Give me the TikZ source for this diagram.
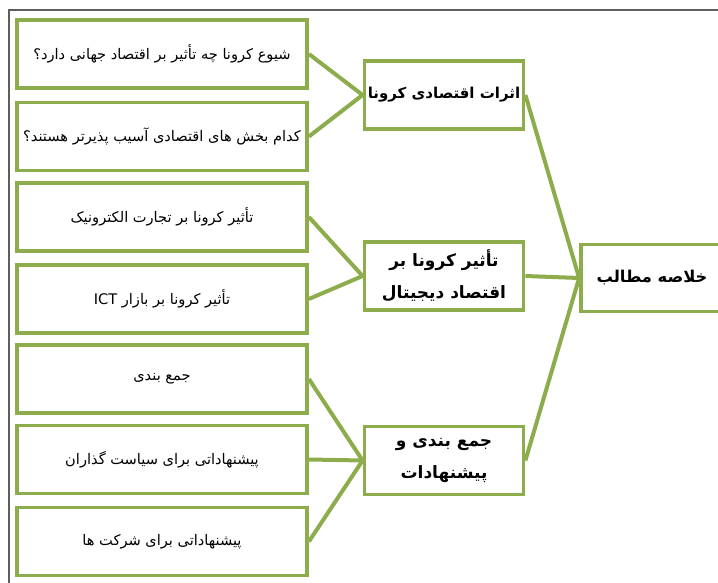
\documentclass[tikz,border=0pt]{standalone}
\usepackage{fontspec}
\TeXXeTstate=1
\newfontfamily\arabicfont[Script=Arabic]{DejaVu Sans}
\definecolor{leaf}{HTML}{8DAD4C}
\definecolor{framegray}{HTML}{5E5E5E}
\tikzset{
  leafbox/.style={draw=leaf, line width=3.8pt, fill=white, minimum width=290pt, minimum height=68pt, inner sep=1pt, font=\arabicfont\fontsize{14.6}{18}\selectfont, align=center},
  midbox/.style={draw=leaf, line width=3.8pt, fill=white, minimum width=159pt, minimum height=68pt, inner sep=1pt, font=\arabicfont\bfseries\fontsize{17}{32}\selectfont, align=center},
  link/.style={draw=leaf, line width=4pt},
  outerframe/.style={draw=framegray, line width=2pt}
}
\begin{document}
\begin{tikzpicture}[x=1pt,y=-1pt]
\useasboundingbox (0,0) rectangle (718,583);
\clip (0,0) rectangle (718,583);
\fill[white] (0,0) rectangle (718,583);
\coordinate (fb) at (8.5,590);
\coordinate (fc) at (8.5,10);
\coordinate (fr) at (725,10);
\draw[outerframe] (fb) -- (fc) -- (fr);
% left boxes
\node[leafbox] (q1) at (162,54) {\beginR شیوع کرونا چه تأثیر بر اقتصاد جهانی دارد؟\endR};
\node[leafbox] (q2) at (162,136.5) {\beginR کدام بخش های اقتصادی آسیب پذیرتر هستند؟\endR};
\node[leafbox] (q3) at (162,217) {\beginR تأثیر کرونا بر تجارت الکترونیک\endR};
\node[leafbox] (q4) at (162,299) {\beginR تأثیر کرونا بر بازار \beginL ICT\endL\endR};
\node[leafbox] (q5) at (162,379) {\beginR جمع بندی\endR};
\node[leafbox] (q6) at (162,459.5) {\beginR پیشنهاداتی برای سیاست گذاران\endR};
\node[leafbox] (q7) at (162,541.5) {\beginR پیشنهاداتی برای شرکت ها\endR};
% middle boxes
\node[midbox, font=\arabicfont\bfseries\fontsize{15}{19}\selectfont] (ma) at (444,95) {\beginR اثرات اقتصادی کرونا\endR};
\node[midbox] (mb) at (444,276) {\beginR تأثیر کرونا بر\endR\\\beginR اقتصاد دیجیتال\endR};
\node[midbox] (mc) at (444,460.5) {\beginR جمع بندی و\endR\\\beginR پیشنهادات\endR};
% right box
\node[midbox, minimum width=142pt, minimum height=67pt, font=\arabicfont\bfseries\fontsize{16.3}{20}\selectfont] (root) at (652,278) {\beginR خلاصه مطالب\endR};
% connectors
\draw[link] (q1.east) -- (ma.west);
\draw[link] (q2.east) -- (ma.west);
\draw[link] (q3.east) -- (mb.west);
\draw[link] (q4.east) -- (mb.west);
\draw[link] (q5.east) -- (mc.west);
\draw[link] (q6.east) -- (mc.west);
\draw[link] (q7.east) -- (mc.west);
\draw[link] (ma.east) -- (root.west);
\draw[link] (mb.east) -- (root.west);
\draw[link] (mc.east) -- (root.west);
\end{tikzpicture}
\end{document}
